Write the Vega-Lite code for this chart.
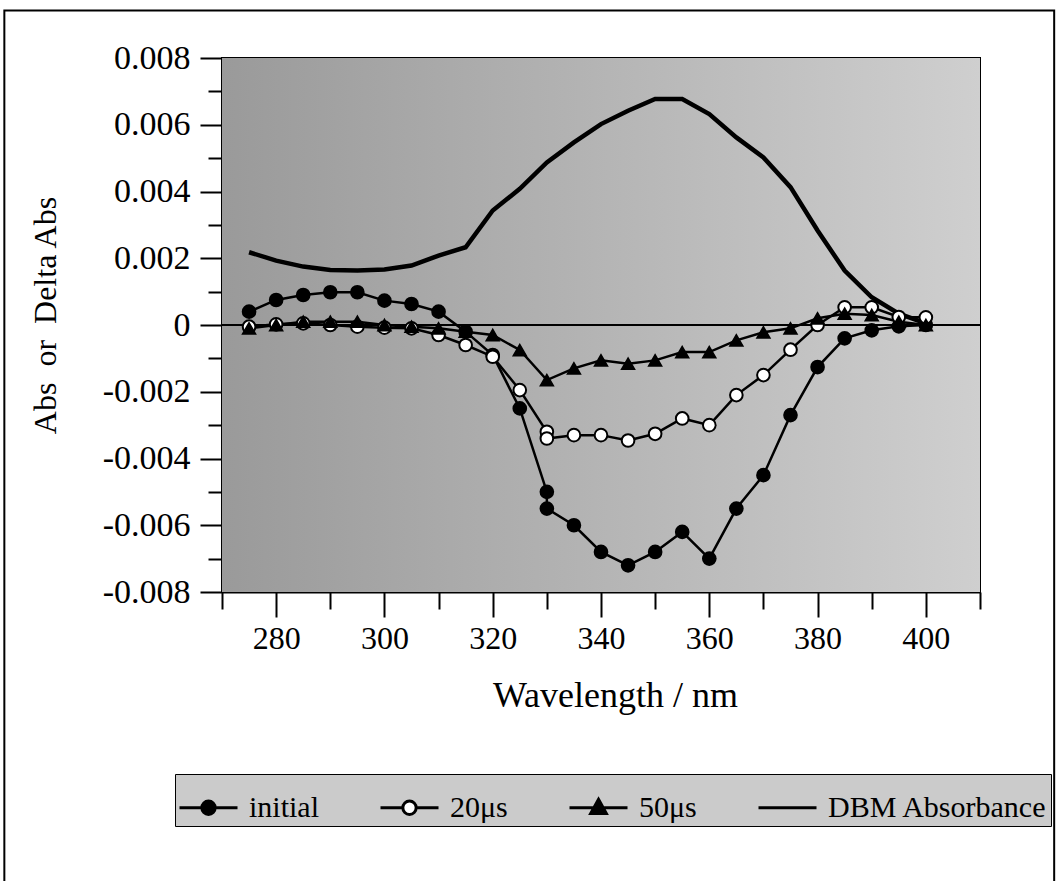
{
  "$schema": "https://vega.github.io/schema/vega-lite/v6.json",
  "width": 758,
  "height": 534,
  "autosize": {"type": "none"},
  "padding": {"left": 222, "top": 58, "right": 81, "bottom": 289},
  "background": "white",
  "datasets": {
    "spec": [
      {"series": "initial", "wl": 275, "v": 0.0004, "i": 1},
      {"series": "initial", "wl": 280, "v": 0.00075, "i": 2},
      {"series": "initial", "wl": 285, "v": 0.0009, "i": 3},
      {"series": "initial", "wl": 290, "v": 0.00098, "i": 4},
      {"series": "initial", "wl": 295, "v": 0.00098, "i": 5},
      {"series": "initial", "wl": 300, "v": 0.00073, "i": 6},
      {"series": "initial", "wl": 305, "v": 0.00063, "i": 7},
      {"series": "initial", "wl": 310, "v": 0.0004, "i": 8},
      {"series": "initial", "wl": 315, "v": -0.0002, "i": 9},
      {"series": "initial", "wl": 320, "v": -0.0009, "i": 10},
      {"series": "initial", "wl": 325, "v": -0.0025, "i": 11},
      {"series": "initial", "wl": 330, "v": -0.005, "i": 12},
      {"series": "initial", "wl": 330, "v": -0.0055, "i": 13},
      {"series": "initial", "wl": 335, "v": -0.006, "i": 14},
      {"series": "initial", "wl": 340, "v": -0.0068, "i": 15},
      {"series": "initial", "wl": 345, "v": -0.0072, "i": 16},
      {"series": "initial", "wl": 350, "v": -0.0068, "i": 17},
      {"series": "initial", "wl": 355, "v": -0.0062, "i": 18},
      {"series": "initial", "wl": 360, "v": -0.007, "i": 19},
      {"series": "initial", "wl": 365, "v": -0.0055, "i": 20},
      {"series": "initial", "wl": 370, "v": -0.0045, "i": 21},
      {"series": "initial", "wl": 375, "v": -0.0027, "i": 22},
      {"series": "initial", "wl": 380, "v": -0.00126, "i": 23},
      {"series": "initial", "wl": 385, "v": -0.0004, "i": 24},
      {"series": "initial", "wl": 390, "v": -0.00016, "i": 25},
      {"series": "initial", "wl": 395, "v": -0.00004, "i": 26},
      {"series": "initial", "wl": 400, "v": 0.0, "i": 27},
      {"series": "20μs", "wl": 275, "v": -0.00005, "i": 28},
      {"series": "20μs", "wl": 280, "v": 0.00002, "i": 29},
      {"series": "20μs", "wl": 285, "v": 0.00005, "i": 30},
      {"series": "20μs", "wl": 290, "v": 0.0, "i": 31},
      {"series": "20μs", "wl": 295, "v": -0.00005, "i": 32},
      {"series": "20μs", "wl": 300, "v": -0.00008, "i": 33},
      {"series": "20μs", "wl": 305, "v": -0.0001, "i": 34},
      {"series": "20μs", "wl": 310, "v": -0.0003, "i": 35},
      {"series": "20μs", "wl": 315, "v": -0.0006, "i": 36},
      {"series": "20μs", "wl": 320, "v": -0.00095, "i": 37},
      {"series": "20μs", "wl": 325, "v": -0.00195, "i": 38},
      {"series": "20μs", "wl": 330, "v": -0.0032, "i": 39},
      {"series": "20μs", "wl": 330, "v": -0.0034, "i": 40},
      {"series": "20μs", "wl": 335, "v": -0.0033, "i": 41},
      {"series": "20μs", "wl": 340, "v": -0.0033, "i": 42},
      {"series": "20μs", "wl": 345, "v": -0.00346, "i": 43},
      {"series": "20μs", "wl": 350, "v": -0.00326, "i": 44},
      {"series": "20μs", "wl": 355, "v": -0.0028, "i": 45},
      {"series": "20μs", "wl": 360, "v": -0.003, "i": 46},
      {"series": "20μs", "wl": 365, "v": -0.0021, "i": 47},
      {"series": "20μs", "wl": 370, "v": -0.0015, "i": 48},
      {"series": "20μs", "wl": 375, "v": -0.00074, "i": 49},
      {"series": "20μs", "wl": 380, "v": 0.0, "i": 50},
      {"series": "20μs", "wl": 385, "v": 0.00053, "i": 51},
      {"series": "20μs", "wl": 390, "v": 0.00053, "i": 52},
      {"series": "20μs", "wl": 395, "v": 0.00024, "i": 53},
      {"series": "20μs", "wl": 400, "v": 0.00023, "i": 54},
      {"series": "50μs", "wl": 275, "v": -0.0001, "i": 55},
      {"series": "50μs", "wl": 280, "v": 0.0, "i": 56},
      {"series": "50μs", "wl": 285, "v": 0.0001, "i": 57},
      {"series": "50μs", "wl": 290, "v": 0.0001, "i": 58},
      {"series": "50μs", "wl": 295, "v": 0.0001, "i": 59},
      {"series": "50μs", "wl": 300, "v": 0.0, "i": 60},
      {"series": "50μs", "wl": 305, "v": -0.00005, "i": 61},
      {"series": "50μs", "wl": 310, "v": -0.0001, "i": 62},
      {"series": "50μs", "wl": 315, "v": -0.0002, "i": 63},
      {"series": "50μs", "wl": 320, "v": -0.0003, "i": 64},
      {"series": "50μs", "wl": 325, "v": -0.00075, "i": 65},
      {"series": "50μs", "wl": 330, "v": -0.00165, "i": 66},
      {"series": "50μs", "wl": 335, "v": -0.0013, "i": 67},
      {"series": "50μs", "wl": 340, "v": -0.00106, "i": 68},
      {"series": "50μs", "wl": 345, "v": -0.00116, "i": 69},
      {"series": "50μs", "wl": 350, "v": -0.00106, "i": 70},
      {"series": "50μs", "wl": 355, "v": -0.00081, "i": 71},
      {"series": "50μs", "wl": 360, "v": -0.00081, "i": 72},
      {"series": "50μs", "wl": 365, "v": -0.00046, "i": 73},
      {"series": "50μs", "wl": 370, "v": -0.00022, "i": 74},
      {"series": "50μs", "wl": 375, "v": -0.0001, "i": 75},
      {"series": "50μs", "wl": 380, "v": 0.0002, "i": 76},
      {"series": "50μs", "wl": 385, "v": 0.00034, "i": 77},
      {"series": "50μs", "wl": 390, "v": 0.0003, "i": 78},
      {"series": "50μs", "wl": 395, "v": 0.0001, "i": 79},
      {"series": "50μs", "wl": 400, "v": 0.0, "i": 80},
      {"series": "DBM Absorbance", "wl": 275, "v": 0.00218, "i": 81},
      {"series": "DBM Absorbance", "wl": 280, "v": 0.00193, "i": 82},
      {"series": "DBM Absorbance", "wl": 285, "v": 0.00175, "i": 83},
      {"series": "DBM Absorbance", "wl": 290, "v": 0.00165, "i": 84},
      {"series": "DBM Absorbance", "wl": 295, "v": 0.00163, "i": 85},
      {"series": "DBM Absorbance", "wl": 300, "v": 0.00166, "i": 86},
      {"series": "DBM Absorbance", "wl": 305, "v": 0.00178, "i": 87},
      {"series": "DBM Absorbance", "wl": 310, "v": 0.00208, "i": 88},
      {"series": "DBM Absorbance", "wl": 315, "v": 0.00233, "i": 89},
      {"series": "DBM Absorbance", "wl": 320, "v": 0.00343, "i": 90},
      {"series": "DBM Absorbance", "wl": 325, "v": 0.00408, "i": 91},
      {"series": "DBM Absorbance", "wl": 330, "v": 0.00487, "i": 92},
      {"series": "DBM Absorbance", "wl": 335, "v": 0.00547, "i": 93},
      {"series": "DBM Absorbance", "wl": 340, "v": 0.00602, "i": 94},
      {"series": "DBM Absorbance", "wl": 345, "v": 0.00642, "i": 95},
      {"series": "DBM Absorbance", "wl": 350, "v": 0.00677, "i": 96},
      {"series": "DBM Absorbance", "wl": 355, "v": 0.00677, "i": 97},
      {"series": "DBM Absorbance", "wl": 360, "v": 0.00632, "i": 98},
      {"series": "DBM Absorbance", "wl": 365, "v": 0.00562, "i": 99},
      {"series": "DBM Absorbance", "wl": 370, "v": 0.00502, "i": 100},
      {"series": "DBM Absorbance", "wl": 375, "v": 0.00413, "i": 101},
      {"series": "DBM Absorbance", "wl": 380, "v": 0.00283, "i": 102},
      {"series": "DBM Absorbance", "wl": 385, "v": 0.00163, "i": 103},
      {"series": "DBM Absorbance", "wl": 390, "v": 0.00083, "i": 104},
      {"series": "DBM Absorbance", "wl": 395, "v": 0.00034, "i": 105},
      {"series": "DBM Absorbance", "wl": 400, "v": 0.00005, "i": 106}
    ],
    "legendrows": [
      {"series": "initial"},
      {"series": "20μs"},
      {"series": "50μs"},
      {"series": "DBM Absorbance"}
    ]
  },
  "config": {
    "font": "Liberation Serif",
    "view": {"stroke": "black", "strokeWidth": 2},
    "axis": {
      "grid": false,
      "domainColor": "black",
      "domainWidth": 2,
      "tickColor": "black",
      "tickWidth": 2,
      "labelColor": "black",
      "titleColor": "black",
      "labelFont": "Liberation Serif",
      "titleFont": "Liberation Serif",
      "labelFontSize": 32,
      "titleFontWeight": "normal",
      "labelFlush": false,
      "labelOverlap": false
    }
  },
  "resolve": {"axis": {"x": "independent", "y": "independent"}},
  "layer": [
    {
      "data": {"values": [{}]},
      "mark": {
        "type": "rect",
        "color": {"gradient": "linear", "x1": 0, "y1": 0, "x2": 1, "y2": 0, "stops": [{"offset": 0, "color": "#9a9a9a"}, {"offset": 1, "color": "#cfcfcf"}]}
      },
      "encoding": {
        "x": {"datum": 270, "type": "quantitative", "axis": null},
        "x2": {"datum": 410},
        "y": {"datum": -0.008, "type": "quantitative", "axis": null},
        "y2": {"datum": 0.008}
      }
    },
    {
      "data": {"values": [{}]},
      "mark": {"type": "rect", "fillOpacity": 0, "stroke": "black", "strokeWidth": 2},
      "encoding": {
        "x": {"datum": 229.8, "type": "quantitative", "axis": null},
        "x2": {"datum": 423.7},
        "y": {"datum": 0.00942, "type": "quantitative", "axis": null},
        "y2": {"datum": -0.0175}
      }
    },
    {
      "data": {"values": [{}]},
      "mark": {"type": "rule", "stroke": "black", "strokeWidth": 2},
      "encoding": {
        "y": {"datum": 0, "type": "quantitative", "axis": null}
      }
    },
    {
      "data": {"name": "spec"},
      "mark": {"type": "line", "color": "black"},
      "encoding": {
        "x": {
          "field": "wl", "type": "quantitative",
          "scale": {"domain": [270, 410], "nice": false, "zero": false},
          "axis": {
            "orient": "bottom",
            "values": [280, 300, 320, 340, 360, 380, 400],
            "tickSize": 25,
            "labelPadding": 6,
            "title": "Wavelength / nm",
            "titleFontSize": 36,
            "titleX": 393,
            "titleY": 103,
            "titleAlign": "center",
            "titleBaseline": "middle"
          }
        },
        "y": {
          "field": "v", "type": "quantitative",
          "scale": {"domain": [-0.008, 0.008], "nice": false, "zero": false},
          "axis": {
            "orient": "left",
            "values": [-0.008, -0.006, -0.004, -0.002, 0, 0.002, 0.004, 0.006, 0.008],
            "tickSize": 22,
            "labelPadding": 10,
            "labelFontSize": 34,
            "labelExpr": "datum.value == 0 ? '0' : (datum.value < 0 ? '-' : '') + format(abs(datum.value), '.3f')",
            "title": "Abs\u00a0 or\u00a0 Delta Abs",
            "titleFontSize": 32,
            "titleX": -177,
            "titleY": 257,
            "titleAngle": -90,
            "titleAlign": "center",
            "titleBaseline": "middle"
          }
        },
        "detail": {"field": "series"},
        "order": {"field": "i", "type": "quantitative"},
        "strokeWidth": {"condition": {"test": "datum.series === 'DBM Absorbance'", "value": 4.5}, "value": 2.5}
      }
    },
    {
      "data": {"name": "spec"},
      "transform": [{"filter": "datum.series === 'initial' || datum.series === '20μs'"}],
      "mark": {"type": "point", "shape": "circle", "filled": true, "size": 160, "stroke": "black", "strokeWidth": 2, "opacity": 1},
      "encoding": {
        "x": {
          "field": "wl", "type": "quantitative",
          "axis": {"orient": "bottom", "values": [270, 290, 310, 330, 350, 370, 390, 410], "tickSize": 17, "labels": false, "domain": false, "title": null}
        },
        "y": {
          "field": "v", "type": "quantitative",
          "axis": {"orient": "left", "values": [-0.007, -0.005, -0.003, -0.001, 0.001, 0.003, 0.005, 0.007], "tickSize": 14, "labels": false, "domain": false, "title": null}
        },
        "fill": {
          "field": "series", "type": "nominal",
          "scale": {"domain": ["initial", "20μs", "50μs", "DBM Absorbance"], "range": ["black", "white", "black", "transparent"]},
          "legend": {"title": null}
        }
      }
    },
    {
      "data": {"name": "spec"},
      "transform": [{"filter": "datum.series === '50μs'"}],
      "mark": {"type": "point", "shape": "triangle-up", "filled": true, "size": 170, "stroke": "black", "strokeWidth": 1.5, "opacity": 1},
      "encoding": {
        "x": {"field": "wl", "type": "quantitative", "axis": null},
        "y": {"field": "v", "type": "quantitative", "axis": null},
        "fill": {"field": "series", "type": "nominal", "legend": {"title": null}}
      }
    },
    {
      "data": {"name": "legendrows"},
      "mark": {"type": "point", "filled": true, "stroke": "black", "strokeWidth": 2.5, "opacity": 0},
      "encoding": {
        "x": {"datum": 340, "type": "quantitative", "axis": null},
        "y": {"datum": 0, "type": "quantitative", "axis": null},
        "shape": {
          "field": "series", "type": "nominal",
          "scale": {
            "domain": ["initial", "20μs", "50μs", "DBM Absorbance"],
            "range": [
              "M-1,0H-0.23M0.23,0H1M0.23,0A0.23,0.23,0,1,1,-0.23,0A0.23,0.23,0,1,1,0.23,0Z",
              "M-1,0H-0.23M0.23,0H1M0.23,0A0.23,0.23,0,1,1,-0.23,0A0.23,0.23,0,1,1,0.23,0Z",
              "M-1,0H1M0,-0.29L0.27,0.2L-0.27,0.2Z",
              "M-1,0H1"
            ]
          },
          "legend": {
            "title": null,
            "orient": "none",
            "legendX": -47,
            "legendY": 716,
            "direction": "horizontal",
            "symbolSize": 3364,
            "symbolStrokeColor": "black",
            "symbolStrokeWidth": 3,
            "symbolOpacity": 1,
            "labelFont": "Liberation Serif",
            "labelFontSize": 30,
            "labelColor": "black",
            "labelOffset": 10,
            "labelLimit": 400,
            "columnPadding": 55,
            "padding": 3,
            "fillColor": "#cbcbcb",
            "strokeColor": "black"
          }
        },
        "fill": {"field": "series", "type": "nominal", "legend": {"title": null}}
      }
    }
  ]
}
